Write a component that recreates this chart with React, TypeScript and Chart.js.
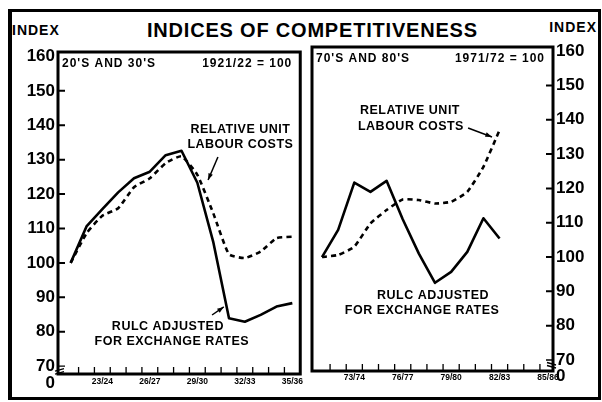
import React, { useEffect, useRef } from "react";
import { Chart, registerables } from "chart.js";

Chart.register(...registerables);

const FONT = '"Liberation Sans", Arial, Helvetica, sans-serif';

// ---- data ----
const leftCategories = ["21/22", "22/23", "23/24", "24/25", "25/26", "26/27", "27/28", "28/29", "29/30", "30/31", "31/32", "32/33", "33/34", "34/35", "35/36"];
const leftRulcAdjusted = [100, 110.6, 115.6, 120.5, 124.6, 126.5, 131.3, 132.6, 123.3, 106.2, 83.9, 82.9, 84.9, 87.3, 88.3];
const leftRelativeUlc = [100, 108.6, 113.7, 115.9, 122.0, 124.6, 129.0, 131.0, 125.6, 114.5, 102.5, 101.4, 103.3, 107.2, 107.6];

const rightCategories = ["71/72", "72/73", "73/74", "74/75", "75/76", "76/77", "77/78", "78/79", "79/80", "80/81", "81/82", "82/83", "83/84", "84/85", "85/86"];
const rightRulcAdjusted = [100, 107.9, 121.7, 119.0, 122.2, 111.0, 101.0, 92.5, 95.7, 101.5, 111.3, 105.4];
const rightRelativeUlc = [100, 100.6, 103.0, 109.8, 113.7, 116.8, 116.6, 115.6, 116.1, 119.0, 126.3, 137.0];

const yTickValues = [70, 80, 90, 100, 110, 120, 130, 140, 150, 160];
const innerTickValues = [80, 90, 100, 110, 120, 130, 140, 150];
const labelledIndexes = [2, 5, 8, 11, 14];

type Note = { text: string; x: number; y: number };
type Arrow = { from: [number, number]; to: [number, number] };
type PanelDef = {
  canvasLeft: number;
  canvasWidth: number;
  padding: { left: number; right: number; top: number; bottom: number };
  xMin: number;
  xMax: number;
  yMin: number;
  yMax: number;
  yPosition: "left" | "right";
  yWidth: number;
  xPad: number;
  categories: string[];
  solid: number[];
  dashed: number[];
  subLeft: string;
  subRight: string;
  notes: Note[];
  arrows: Arrow[];
  zeroDy: number;
};

const leftPanel: PanelDef = {
  canvasLeft: 0,
  canvasWidth: 306,
  padding: { left: 0, right: 1, top: 52, bottom: 8 },
  xMin: -0.8,
  xMax: 14.5,
  yMin: 67.7,
  yMax: 161.3,
  yPosition: "left",
  yWidth: 58,
  xPad: 3,
  categories: leftCategories,
  solid: leftRulcAdjusted,
  dashed: leftRelativeUlc,
  subLeft: "20'S AND 30'S",
  subRight: "1921/22 = 100",
  notes: [
    { text: "RELATIVE UNIT", x: 10.72, y: 138.9 },
    { text: "LABOUR COSTS", x: 10.72, y: 134.3 },
    { text: "RULC ADJUSTED", x: 6.14, y: 81.4 },
    { text: "FOR EXCHANGE RATES", x: 6.39, y: 77.0 },
  ],
  arrows: [
    { from: [9.3, 130.8], to: [8.68, 124.1] },
    { from: [8.93, 84.85], to: [9.67, 87.2] },
  ],
  zeroDy: 9,
};

const rightPanel: PanelDef = {
  canvasLeft: 306,
  canvasWidth: 296,
  padding: { left: 6, right: 0, top: 47, bottom: 11 },
  xMin: -0.62,
  xMax: 14.31,
  yMin: 66.8,
  yMax: 161.2,
  yPosition: "right",
  yWidth: 49,
  xPad: 2,
  categories: rightCategories,
  solid: rightRulcAdjusted,
  dashed: rightRelativeUlc,
  subLeft: "70'S AND 80'S",
  subRight: "1971/72 = 100",
  notes: [
    { text: "RELATIVE UNIT", x: 5.45, y: 142.6 },
    { text: "LABOUR COSTS", x: 5.51, y: 137.9 },
    { text: "RULC ADJUSTED", x: 6.88, y: 88.9 },
    { text: "FOR EXCHANGE RATES", x: 6.2, y: 84.3 },
  ],
  arrows: [{ from: [9.05, 137.6], to: [10.53, 135.0] }],
  zeroDy: 5,
};

function makeDecor(p: PanelDef) {
  return {
    id: "decor",
    afterDraw(chart: any) {
      const { ctx, chartArea: a } = chart;
      const xs = chart.scales.x;
      const ys = chart.scales.y;
      const isLeft = p.yPosition === "left";
      const ax = isLeft ? a.left : a.right;
      const dir = isLeft ? 1 : -1;
      ctx.save();
      ctx.strokeStyle = "#000";
      ctx.fillStyle = "#000";
      ctx.lineCap = "butt";
      // frame
      ctx.lineWidth = 3;
      ctx.strokeRect(a.left, a.top, a.right - a.left, a.bottom - a.top);
      // inward y ticks
      ctx.lineWidth = 2;
      ctx.beginPath();
      for (const v of innerTickValues) {
        const py = ys.getPixelForValue(v);
        ctx.moveTo(ax, py);
        ctx.lineTo(ax + dir * 7, py);
      }
      ctx.stroke();
      // x ticks at year boundaries
      ctx.lineWidth = 1.3;
      ctx.beginPath();
      for (let i = -0.5; i <= 13.5; i += 1) {
        const px = xs.getPixelForValue(i);
        if (px < a.left + 5 || px > a.right - 5) continue;
        ctx.moveTo(px, a.bottom);
        ctx.lineTo(px, a.bottom - 7);
      }
      ctx.stroke();
      // 70 tick + axis break
      const y70 = ys.getPixelForValue(70);
      ctx.lineWidth = 1.4;
      ctx.beginPath();
      ctx.moveTo(ax, y70);
      ctx.lineTo(ax + dir * 7, y70);
      ctx.moveTo(ax - dir * 3, y70 + 5);
      ctx.lineTo(ax + dir * 6, y70 + 2.5);
      ctx.moveTo(ax - dir * 3, y70 + 8);
      ctx.lineTo(ax + dir * 6, y70 + 5.5);
      ctx.stroke();
      // zero label
      ctx.font = `bold 17px ${FONT}`;
      ctx.textBaseline = "middle";
      ctx.textAlign = isLeft ? "right" : "left";
      ctx.fillText("0", isLeft ? a.left - 3 : a.right + 3, a.bottom + p.zeroDy);
      // subtitles
      ctx.font = `bold 12px ${FONT}`;
      (ctx as any).letterSpacing = "1px";
      ctx.textAlign = "left";
      ctx.fillText(p.subLeft, a.left + 4, a.top + 12);
      ctx.textAlign = "right";
      ctx.fillText(p.subRight, a.right - 8, a.top + 12);
      // annotations
      ctx.font = `bold 12.5px ${FONT}`;
      (ctx as any).letterSpacing = "0.5px";
      ctx.textAlign = "center";
      for (const n of p.notes) {
        ctx.fillText(n.text, xs.getPixelForValue(n.x), ys.getPixelForValue(n.y));
      }
      (ctx as any).letterSpacing = "0px";
      // arrows
      ctx.lineWidth = 1.5;
      for (const ar of p.arrows) {
        const x1 = xs.getPixelForValue(ar.from[0]);
        const y1 = ys.getPixelForValue(ar.from[1]);
        const x2 = xs.getPixelForValue(ar.to[0]);
        const y2 = ys.getPixelForValue(ar.to[1]);
        const ang = Math.atan2(y2 - y1, x2 - x1);
        ctx.beginPath();
        ctx.moveTo(x1, y1);
        ctx.lineTo(x2, y2);
        ctx.stroke();
        ctx.beginPath();
        ctx.moveTo(x2, y2);
        ctx.lineTo(x2 - 7 * Math.cos(ang - 0.35), y2 - 7 * Math.sin(ang - 0.35));
        ctx.lineTo(x2 - 7 * Math.cos(ang + 0.35), y2 - 7 * Math.sin(ang + 0.35));
        ctx.closePath();
        ctx.fill();
      }
      ctx.restore();
    },
  };
}

function Panel({ p }: { p: PanelDef }) {
  const ref = useRef<HTMLCanvasElement>(null);
  useEffect(() => {
    const chart = new Chart(ref.current as HTMLCanvasElement, {
      type: "line",
      data: {
        datasets: [
          {
            label: "RULC adjusted for exchange rates",
            data: p.solid.map((v, i) => ({ x: i, y: v })),
            borderColor: "#000",
            borderWidth: 2.6,
            pointRadius: 0,
            fill: false,
            tension: 0,
            borderJoinStyle: "round",
          },
          {
            label: "Relative unit labour costs",
            data: p.dashed.map((v, i) => ({ x: i, y: v })),
            borderColor: "#000",
            borderWidth: 2.6,
            borderDash: [5, 4],
            pointRadius: 0,
            fill: false,
            tension: 0.15,
          },
        ],
      },
      options: {
        animation: false,
        responsive: false,
        devicePixelRatio: 1,
        layout: { autoPadding: false, padding: p.padding },
        plugins: { legend: { display: false }, tooltip: { enabled: false } },
        scales: {
          x: {
            type: "linear",
            position: "bottom",
            min: p.xMin,
            max: p.xMax,
            grid: { display: false, drawTicks: false },
            border: { display: false },
            afterBuildTicks: (s: any) => {
              s.ticks = labelledIndexes.map((v) => ({ value: v }));
            },
            afterFit: (s: any) => {
              s.height = 20;
            },
            ticks: {
              autoSkip: false,
              maxRotation: 0,
              minRotation: 0,
              padding: p.xPad,
              color: "#000",
              font: { family: FONT, size: 8.5, weight: "bold" },
              callback: (v: any) => p.categories[Math.round(Number(v))] ?? "",
            },
          },
          y: {
            type: "linear",
            position: p.yPosition,
            min: p.yMin,
            max: p.yMax,
            grid: { display: false, drawTicks: false },
            border: { display: false },
            afterBuildTicks: (s: any) => {
              s.ticks = yTickValues.map((v) => ({ value: v }));
            },
            afterFit: (s: any) => {
              s.width = p.yWidth;
            },
            ticks: {
              padding: 3,
              color: "#000",
              font: { family: FONT, size: 17, weight: "bold" },
              callback: (v: any) => String(v),
            },
          },
        },
      } as any,
      plugins: [makeDecor(p)],
    });
    return () => chart.destroy();
  }, [p]);
  return (
    <canvas
      ref={ref}
      width={p.canvasWidth}
      height={402}
      style={{ position: "absolute", left: p.canvasLeft, top: 0, width: p.canvasWidth, height: 402 }}
    />
  );
}

export default function App() {
  const text: React.CSSProperties = {
    position: "absolute",
    fontFamily: FONT,
    fontWeight: "bold",
    color: "#000",
    whiteSpace: "nowrap",
    margin: 0,
  };
  return (
    <div style={{ position: "absolute", left: 0, top: 0, width: 602, height: 402, background: "#fff", overflow: "hidden" }}>
      <div
        style={{
          position: "absolute",
          left: 8,
          top: 9,
          width: 593,
          height: 391,
          boxSizing: "border-box",
          border: "3px solid #000",
          borderLeftWidth: 4,
        }}
      />
      <div style={{ ...text, left: 12, top: 22, fontSize: 14, lineHeight: "16px", letterSpacing: 1 }}>INDEX</div>
      <div style={{ ...text, left: 147, top: 19, fontSize: 20, lineHeight: "22px", letterSpacing: 0.8 }}>
        INDICES OF COMPETITIVENESS
      </div>
      <div style={{ ...text, right: 5, top: 19, fontSize: 14, lineHeight: "16px", letterSpacing: 1 }}>INDEX</div>
      <Panel p={leftPanel} />
      <Panel p={rightPanel} />
    </div>
  );
}
